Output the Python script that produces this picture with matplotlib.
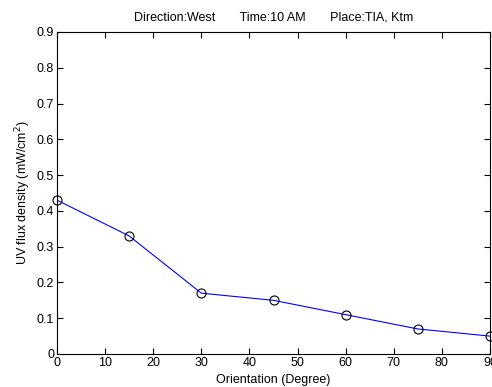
import numpy as np
import matplotlib
matplotlib.use("Agg")
import matplotlib.pyplot as plt

# orientation of the sensor and the flux read at each step
orientation = [0, 15, 30, 45, 60, 75, 90]
uv_flux = [0.43, 0.33, 0.17, 0.15, 0.11, 0.07, 0.05]

plt.rcParams['font.family'] = ['Liberation Sans', 'DejaVu Sans']
plt.rcParams['font.size'] = 9

fig = plt.figure(figsize=(4.92, 3.87), dpi=100)
ax = fig.add_axes([57/492, 33/387, 433/492, 322/387])

ax.plot(orientation, uv_flux, color='#0000ff', lw=0.8, zorder=2)
ax.plot(orientation, uv_flux, 'o', mfc='none', mec='k', ms=6.5, mew=0.8, zorder=3, clip_on=False)

ax.set_xlim(0, 90)
ax.set_ylim(0, 0.9)
ax.set_xticks(np.arange(0, 91, 10))
ax.set_yticks(np.arange(0, 0.91, 0.1))
ax.set_yticklabels(['0'] + ['%.1f' % v for v in np.arange(0.1, 0.91, 0.1)])
ax.tick_params(direction='in', top=True, right=True, length=4, width=0.8, pad=2, labelsize=9)
for s in ax.spines.values():
	s.set_linewidth(0.8)

ax.set_xlabel('Orientation (Degree)', labelpad=4)
ax.set_ylabel('UV flux density (mW/cm$^2$)', labelpad=3)
ax.set_title('Direction:West       Time:10 AM       Place:TIA, Ktm', fontsize=9, pad=8)

fig.savefig('out.png', dpi=100)
